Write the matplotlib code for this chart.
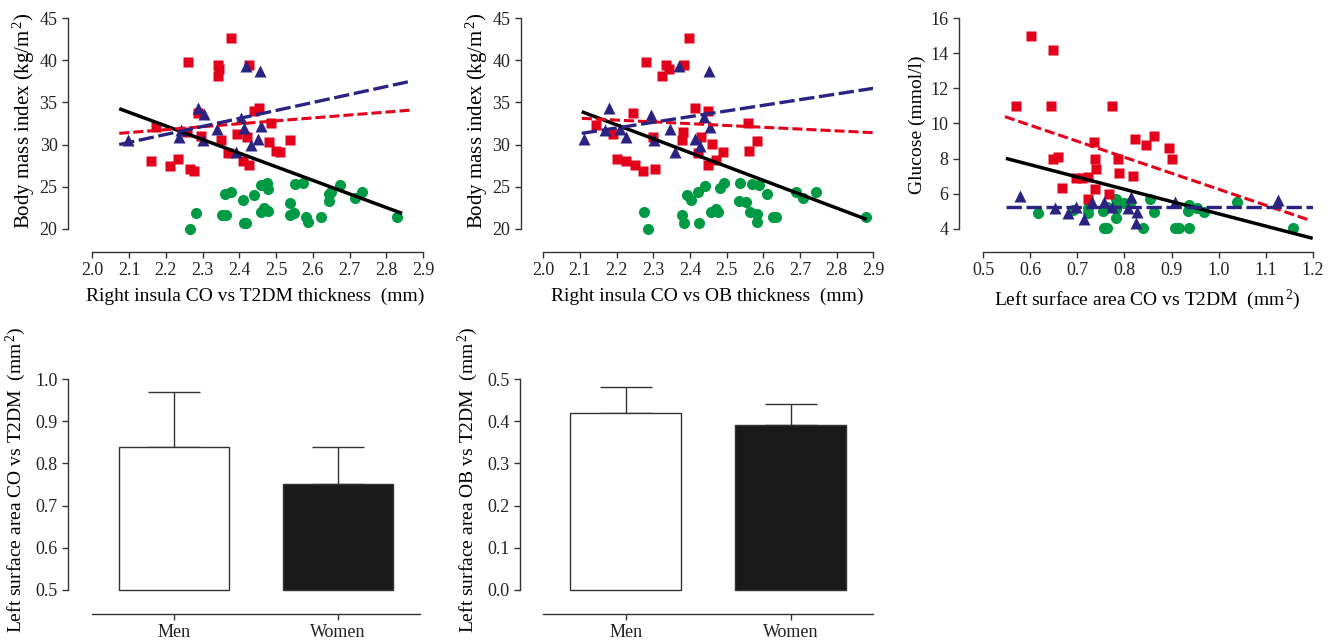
import numpy as np
import matplotlib
matplotlib.use("Agg")
import matplotlib.pyplot as plt

plt.rcParams["font.family"] = ["Liberation Serif", "DejaVu Serif"]
plt.rcParams["mathtext.fontset"] = "custom"
plt.rcParams["mathtext.rm"] = "Liberation Serif"
plt.rcParams["mathtext.it"] = "Liberation Serif:italic"

RED = "#e2001a"
BLUE = "#2b2381"
GREEN = "#009a44"
AXC = "#333333"

# ---------------------------
# Panel A: BMI vs right insula thickness (CO vs T2DM)
# ---------------------------
a_red_x = [2.377, 2.26, 2.343, 2.345, 2.343, 2.426, 2.44, 2.454, 2.288, 2.485, 2.174,
           2.258, 2.393, 2.295, 2.421, 2.35, 2.48, 2.538, 2.5, 2.511, 2.37, 2.234,
           2.16, 2.21, 2.265, 2.276, 2.41, 2.427]
a_red_y = [42.7, 39.77, 39.4, 39.0, 38.2, 39.4, 34.0, 34.4, 33.7, 32.5, 32.1,
           31.45, 31.3, 31.0, 30.9, 30.5, 30.3, 30.5, 29.27, 29.07, 28.95, 28.24,
           28.04, 27.5, 27.09, 26.85, 28.08, 27.6]
a_blue_x = [2.097, 2.236, 2.24, 2.287, 2.304, 2.302, 2.338, 2.39, 2.404, 2.413,
            2.418, 2.457, 2.433, 2.45, 2.459]
a_blue_y = [30.54, 30.9, 31.7, 34.4, 33.6, 30.5, 31.85, 29.15, 33.2, 32.0,
            39.3, 38.7, 29.9, 30.7, 32.2]
a_green_x = [2.267, 2.281, 2.362, 2.376, 2.352, 2.365, 2.409, 2.412, 2.419, 2.44,
             2.46, 2.475, 2.479, 2.459, 2.467, 2.478, 2.538, 2.538, 2.549, 2.551,
             2.573, 2.582, 2.587, 2.623, 2.644, 2.65, 2.644, 2.675, 2.715, 2.733, 2.83]
a_green_y = [19.96, 21.9, 24.1, 24.4, 21.66, 21.66, 23.4, 20.7, 20.7, 24.0,
             25.2, 25.4, 24.75, 21.98, 22.5, 22.06, 23.1, 21.6, 21.9, 25.27,
             25.4, 21.35, 20.8, 21.35, 24.1, 24.36, 23.3, 25.15, 23.6, 24.4, 21.4]
a_black_line = ([2.073, 2.843], [34.26, 21.82])
a_blue_line = ([2.073, 2.861], [30.0, 37.47])
a_red_line = ([2.073, 2.87], [31.33, 34.1])

# ---------------------------
# Panel B: BMI vs right insula thickness (CO vs OB)
# ---------------------------
b_red_x = [2.397, 2.28, 2.335, 2.342, 2.325, 2.384, 2.414, 2.45, 2.245, 2.143,
           2.559, 2.19, 2.38, 2.377, 2.298, 2.43, 2.46, 2.584, 2.421, 2.489,
           2.562, 2.2, 2.225, 2.25, 2.273, 2.305, 2.448, 2.47]
b_red_y = [42.7, 39.77, 39.4, 39.0, 38.2, 39.4, 34.4, 34.0, 33.7, 32.3,
           32.5, 31.3, 31.45, 30.5, 30.9, 30.9, 30.1, 30.4, 28.95, 29.07,
           29.27, 28.24, 28.04, 27.57, 26.9, 27.05, 27.57, 28.16]
b_blue_x = [2.112, 2.167, 2.178, 2.209, 2.225, 2.293, 2.302, 2.345, 2.359, 2.37,
            2.415, 2.427, 2.438, 2.455, 2.451]
b_blue_y = [30.66, 31.73, 34.38, 31.9, 30.9, 33.5, 30.54, 31.8, 29.15, 39.3,
            30.6, 29.87, 33.3, 32.1, 38.74]
b_green_x = [2.275, 2.285, 2.377, 2.385, 2.393, 2.402, 2.425, 2.423, 2.442, 2.458,
             2.47, 2.477, 2.482, 2.493, 2.536, 2.535, 2.553, 2.564, 2.582, 2.582,
             2.57, 2.589, 2.611, 2.627, 2.636, 2.69, 2.709, 2.745, 2.88]
b_green_y = [21.94, 20.0, 21.6, 20.7, 24.0, 23.4, 20.7, 24.4, 25.1, 21.98,
             22.3, 22.0, 24.8, 25.47, 25.39, 23.33, 23.13, 22.0, 21.74, 20.83,
             25.27, 25.19, 24.08, 21.35, 21.35, 24.4, 23.6, 24.4, 21.39]
b_black_line = ([2.105, 2.882], [33.9, 21.1])
b_blue_line = ([2.105, 2.9], [31.33, 36.68])
b_red_line = ([2.105, 2.9], [33.11, 31.41])

# ---------------------------
# Panel C: glucose vs left surface area
# ---------------------------
c_red_x = [0.569, 0.602, 0.649, 0.643, 0.649, 0.659, 0.667, 0.698, 0.709, 0.723,
           0.722, 0.735, 0.737, 0.74, 0.737, 0.768, 0.773, 0.787, 0.788, 0.819,
           0.823, 0.846, 0.863, 0.895, 0.9]
c_red_y = [11.0, 15.0, 14.19, 11.0, 7.97, 8.1, 6.34, 6.87, 6.87, 6.97,
           5.67, 8.96, 7.97, 7.38, 6.26, 6.0, 11.0, 7.97, 7.16, 7.0,
           9.1, 8.77, 9.29, 8.62, 7.97]
c_blue_x = [0.579, 0.652, 0.679, 0.698, 0.713, 0.732, 0.757, 0.774, 0.814, 0.808,
            0.826, 0.824, 0.908, 1.127]
c_blue_y = [5.86, 5.16, 4.87, 5.22, 4.55, 5.54, 5.54, 5.25, 5.83, 5.2,
            4.97, 4.34, 5.54, 5.63]
c_green_x = [0.617, 0.691, 0.723, 0.722, 0.754, 0.762, 0.782, 0.757, 0.762, 0.782,
             0.782, 0.799, 0.812, 0.84, 0.854, 0.863, 0.908, 0.915, 0.937, 0.938,
             0.934, 0.954, 0.97, 1.04, 1.158]
c_green_y = [4.91, 5.06, 4.91, 5.16, 5.03, 5.22, 5.1, 4.02, 4.02, 5.67,
             4.59, 5.44, 5.48, 4.02, 5.67, 4.97, 4.02, 4.02, 4.02, 5.35,
             5.03, 5.16, 4.97, 5.52, 4.02]
c_black_line = ([0.548, 1.2], [8.01, 3.45])
c_red_line = ([0.546, 1.193], [10.39, 4.49])
c_blue_line = ([0.548, 1.2], [5.25, 5.25])

# ---------------------------
# Bar panels
# ---------------------------
groups = ["Men", "Women"]
co_means = [0.84, 0.75]
co_err = [0.13, 0.09]
co_base = 0.5
ob_means = [0.42, 0.39]
ob_err = [0.06, 0.05]
ob_base = 0.0

W, H = 1337, 642
fig = plt.figure(figsize=(W / 100, H / 100), dpi=100)


def box(l, t, r, b):
    return [l / W, 1 - b / H, (r - l) / W, (b - t) / H]


def style(ax, xb, yb):
    for s in ["top", "right"]:
        ax.spines[s].set_visible(False)
    for s in ["left", "bottom"]:
        ax.spines[s].set_color(AXC)
        ax.spines[s].set_linewidth(1.0)
    ax.spines["bottom"].set_bounds(*xb)
    ax.spines["left"].set_bounds(*yb)
    ax.tick_params(direction="out", length=4.5, width=1.0, color=AXC,
                   labelsize=13, labelcolor="#222222", pad=3)


def scatter_panel(ax, rx, ry, bx, by, gx, gy, blk, rl, bl):
    ax.plot(gx, gy, "o", color=GREEN, ms=8, mec="none", zorder=2)
    ax.plot(rx, ry, "s", color=RED, ms=7.8, mec="none", zorder=3)
    ax.plot(bx, by, "^", color=BLUE, ms=8.6, mec="none", zorder=4)
    ax.plot(*blk, color="black", lw=2.5, solid_capstyle="butt", zorder=5)
    ax.plot(*rl, color=RED, lw=2.2, dashes=(3.3, 1.3), zorder=5)
    ax.plot(*bl, color=BLUE, lw=2.4, dashes=(4.6, 1.4), zorder=6)


ax1 = fig.add_axes(box(68, 18.3, 423, 252))
scatter_panel(ax1, a_red_x, a_red_y, a_blue_x, a_blue_y, a_green_x, a_green_y,
              a_black_line, a_red_line, a_blue_line)
ax1.set_xlim(1.9335, 2.9)
ax1.set_ylim(17.23, 45)
ax1.set_xticks(np.arange(2.0, 2.91, 0.1))
ax1.set_yticks([20, 25, 30, 35, 40, 45])
style(ax1, (2.0, 2.9), (20, 45))
ax1.set_xlabel("Right insula CO vs T2DM thickness  (mm)", fontsize=14, labelpad=6)
ax1.xaxis.label.set_x(0.526)
ax1.set_ylabel("Body mass index (kg/m$^{\\,2}$)", fontsize=15)
ax1.yaxis.set_label_coords(-0.087, 0.56)

ax2 = fig.add_axes(box(520.7, 18.3, 873.3, 252))
scatter_panel(ax2, b_red_x, b_red_y, b_blue_x, b_blue_y, b_green_x, b_green_y,
              b_black_line, b_red_line, b_blue_line)
ax2.set_xlim(1.9384, 2.9)
ax2.set_ylim(17.23, 45)
ax2.set_xticks(np.arange(2.0, 2.91, 0.1))
ax2.set_yticks([20, 25, 30, 35, 40, 45])
style(ax2, (2.0, 2.9), (20, 45))
ax2.set_xlabel("Right insula CO vs OB thickness  (mm)", fontsize=14, labelpad=6)
ax2.xaxis.label.set_x(0.528)
ax2.set_ylabel("Body mass index (kg/m$^{\\,2}$)", fontsize=15)
ax2.yaxis.set_label_coords(-0.087, 0.56)

ax3 = fig.add_axes(box(959, 18.3, 1312.7, 252))
scatter_panel(ax3, c_red_x, c_red_y, c_blue_x, c_blue_y, c_green_x, c_green_y,
              c_black_line, c_red_line, c_blue_line)
ax3.set_xlim(0.4483, 1.2)
ax3.set_ylim(2.67, 16)
ax3.set_xticks(np.arange(0.5, 1.21, 0.1))
ax3.set_yticks([4, 6, 8, 10, 12, 14, 16])
style(ax3, (0.5, 1.2), (4, 16))
ax3.set_xlabel("Left surface area CO vs T2DM  (mm$^{\\,2}$)", fontsize=14, labelpad=6)
ax3.xaxis.label.set_x(0.532)
ax3.set_ylabel("Glucose (mmol/l)", fontsize=14)
ax3.yaxis.set_label_coords(-0.093, 0.543)


def bar_panel(ax, means, errs, base):
    xs = np.arange(len(groups))
    heights = [m - base for m in means]
    ax.bar(xs, heights, bottom=base, width=0.67, color=["white", "#1a1a1a"],
           edgecolor=AXC, linewidth=1.0, zorder=2)
    ax.errorbar(xs, means, yerr=[[0] * len(errs), errs], fmt="none",
                ecolor=AXC, elinewidth=1.0, capsize=19, capthick=1.0, zorder=1)
    ax.set_xticks(xs)
    ax.set_xticklabels(groups)


ax4 = fig.add_axes(box(68.3, 379, 420.7, 614))
bar_panel(ax4, co_means, co_err, co_base)
ax4.set_xlim(-0.643, 1.502)
ax4.set_ylim(0.443, 1.0)
ax4.set_yticks(np.arange(0.5, 1.01, 0.1))
ax4.set_yticklabels(["0.5", "0.6", "0.7", "0.8", "0.9", "1.0"])
style(ax4, (-0.5, 1.5), (0.5, 1.0))
ax4.set_ylabel("Left surface area CO vs T2DM  (mm$^{\\,2}$)", fontsize=14)
ax4.yaxis.set_label_coords(-0.114, 0.57)

ax5 = fig.add_axes(box(520, 379, 873.3, 614))
bar_panel(ax5, ob_means, ob_err, ob_base)
ax5.set_xlim(-0.64, 1.50)
ax5.set_ylim(-0.057, 0.5)
ax5.set_yticks(np.arange(0.0, 0.51, 0.1))
ax5.set_yticklabels(["0.0", "0.1", "0.2", "0.3", "0.4", "0.5"])
style(ax5, (-0.5, 1.5), (0.0, 0.5))
ax5.set_ylabel("Left surface area OB vs T2DM  (mm$^{\\,2}$)", fontsize=14)
ax5.yaxis.set_label_coords(-0.113, 0.57)

fig.savefig("out.png", dpi=100)
